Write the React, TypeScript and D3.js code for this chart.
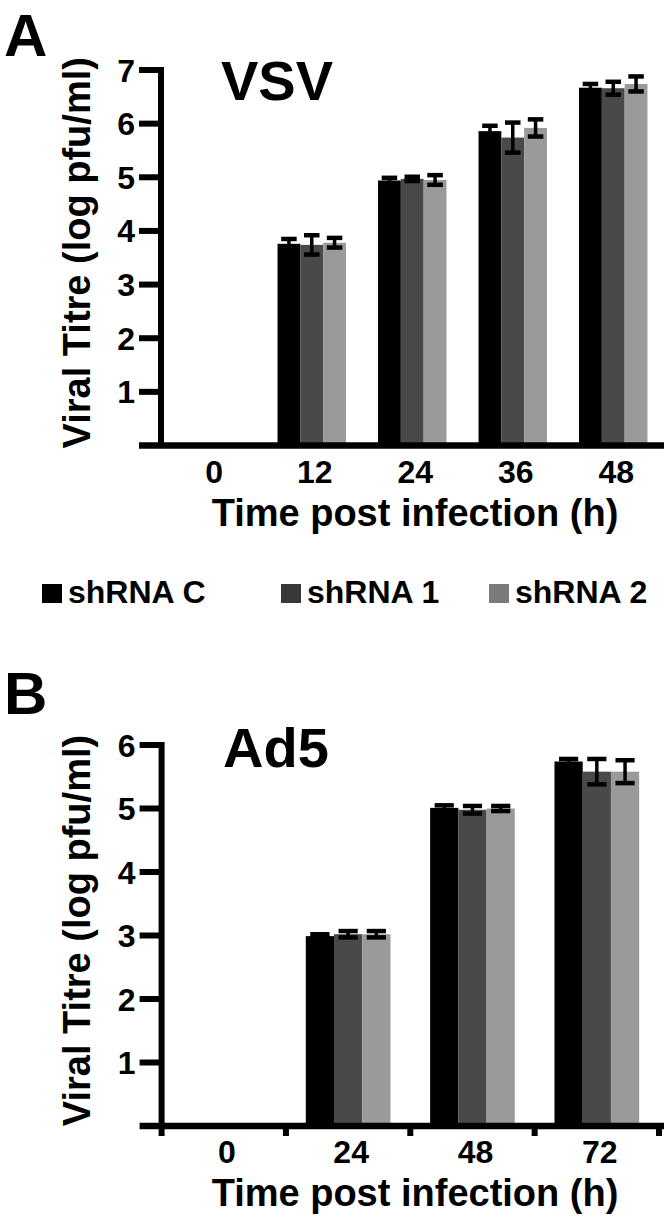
import React from 'react';
import * as d3 from 'd3';

// ---------- data ----------
const seriesNames = ['shRNA C', 'shRNA 1', 'shRNA 2'];

const vsvTimes = ['0', '12', '24', '36', '48'];
const vsvShC = [0, 3.76, 4.94, 5.86, 6.67];
const vsvShCErr = [0, 0.09, 0.05, 0.1, 0.07];
const vsvSh1 = [0, 3.74, 4.97, 5.74, 6.66];
const vsvSh1Err = [0, 0.18, 0.04, 0.28, 0.12];
const vsvSh2 = [0, 3.78, 4.95, 5.92, 6.74];
const vsvSh2Err = [0, 0.09, 0.09, 0.16, 0.14];
const vsvYTicks = [1, 2, 3, 4, 5, 6, 7];

const ad5Times = ['0', '24', '48', '72'];
const ad5ShC = [0, 2.99, 5.01, 5.74];
const ad5ShCErr = [0, 0.03, 0.04, 0.04];
const ad5Sh1 = [0, 3.02, 4.98, 5.58];
const ad5Sh1Err = [0, 0.05, 0.06, 0.2];
const ad5Sh2 = [0, 3.02, 5.0, 5.58];
const ad5Sh2Err = [0, 0.05, 0.04, 0.18];
const ad5YTicks = [1, 2, 3, 4, 5, 6];

const barColors = ['#000000', '#494949', '#9a9a9a'];
const legendColors = ['#000000', '#383838', '#7a7a7a'];

const FONT = '"Liberation Sans", Arial, Helvetica, sans-serif';

type PanelProps = {
  cats: string[];
  values: number[][];
  errs: number[][];
  yTicks: number[];
  yMax: number;
  top: number;
  bottom: number;
  left: number;
  right: number;
  xTicks: boolean;
  letter: string;
  letterX: number;
  letterY: number;
  virus: string;
  virusX: number;
  virusY: number;
};

function Panel(p: PanelProps) {
  const y = d3.scaleLinear().domain([0, p.yMax]).range([p.bottom, p.top]);
  const x0 = d3.scaleBand<string>().domain(p.cats).range([p.left, p.right]).padding(0);
  const bw = x0.bandwidth() * 0.227;
  const x1 = d3
    .scaleBand<string>()
    .domain(seriesNames)
    .range([0, bw * 3])
    .padding(0);
  const gOff = (x0.bandwidth() - bw * 3) / 2;
  const capW = bw * 0.68;
  const axisW = 6;
  const tickLen = 22;
  const y0 = y(0);
  const lineEnd = 664;
  const midY = (p.top + p.bottom) / 2 - 5;
  const boundaries = [...p.cats.map((c) => x0(c) as number), p.right];

  return (
    <g>
      <text x={p.letterX} y={p.letterY} fontFamily={FONT} fontWeight="bold" fontSize={60}>
        {p.letter}
      </text>
      <text x={p.virusX} y={p.virusY} fontFamily={FONT} fontWeight="bold" fontSize={56}>
        {p.virus}
      </text>

      {/* bars */}
      {p.cats.map((c, ci) =>
        seriesNames.map((s, si) => {
          const v = p.values[si][ci];
          if (v <= 0) return null;
          const bx = (x0(c) as number) + gOff + (x1(s) as number);
          return (
            <rect
              key={c + s}
              x={bx}
              y={y(v)}
              width={x1.bandwidth()}
              height={y0 - y(v)}
              fill={barColors[si]}
            />
          );
        })
      )}

      {/* error bars */}
      {p.cats.map((c, ci) =>
        seriesNames.map((s, si) => {
          const v = p.values[si][ci];
          const e = p.errs[si][ci];
          if (v <= 0) return null;
          const cx = (x0(c) as number) + gOff + (x1(s) as number) + x1.bandwidth() / 2;
          return (
            <g key={'e' + c + s} stroke="#000">
              <line x1={cx} x2={cx} y1={y(v - e)} y2={y(v + e)} strokeWidth={3.5} />
              <line x1={cx - capW / 2} x2={cx + capW / 2} y1={y(v + e)} y2={y(v + e)} strokeWidth={4.5} />
              <line x1={cx - capW / 2} x2={cx + capW / 2} y1={y(v - e)} y2={y(v - e)} strokeWidth={4.5} />
            </g>
          );
        })
      )}

      {/* y axis */}
      <line x1={p.left} x2={p.left} y1={y(p.yMax) - axisW / 2} y2={y0} stroke="#000" strokeWidth={axisW} />
      {p.yTicks.map((t) => (
        <g key={'yt' + t}>
          <line x1={p.left - tickLen} x2={p.left} y1={y(t)} y2={y(t)} stroke="#000" strokeWidth={axisW} />
          <text
            x={p.left - 26}
            y={y(t) + 11.5}
            textAnchor="end"
            fontFamily={FONT}
            fontWeight="bold"
            fontSize={32}
          >
            {t}
          </text>
        </g>
      ))}
      {/* x axis */}
      <line x1={p.left - tickLen} x2={lineEnd} y1={y0} y2={y0} stroke="#000" strokeWidth={6.5} />
      {p.xTicks &&
        boundaries.map((b, i) => (
          <line key={'xt' + i} x1={b} x2={b} y1={y0} y2={y0 + 10} stroke="#000" strokeWidth={axisW} />
        ))}
      {p.cats.map((c) => (
        <text
          key={'xl' + c}
          x={(x0(c) as number) + x0.bandwidth() / 2 + 3}
          y={y0 + 37}
          textAnchor="middle"
          fontFamily={FONT}
          fontWeight="bold"
          fontSize={32}
        >
          {c}
        </text>
      ))}
      <text
        x={415}
        y={y0 + 80}
        textAnchor="middle"
        fontFamily={FONT}
        fontWeight="bold"
        fontSize={38}
      >
        Time post infection (h)
      </text>
      <text
        transform={`translate(90,${midY}) rotate(-90)`}
        textAnchor="middle"
        fontFamily={FONT}
        fontWeight="bold"
        fontSize={38}
      >
        Viral Titre (log pfu/ml)
      </text>
    </g>
  );
}

const legendX = [42, 281, 489];

export default function App() {
  return (
    <svg
      width={666}
      height={1226}
      viewBox="0 0 666 1226"
      style={{ position: 'absolute', left: 0, top: 0, background: '#fff' }}
    >
      <rect x={0} y={0} width={666} height={1226} fill="#fff" />
      <Panel
        cats={vsvTimes}
        values={[vsvShC, vsvSh1, vsvSh2]}
        errs={[vsvShCErr, vsvSh1Err, vsvSh2Err]}
        yTicks={vsvYTicks}
        yMax={7}
        top={70}
        bottom={445.5}
        left={161}
        right={663.5}
        xTicks={false}
        letter="A"
        letterX={4}
        letterY={56}
        virus="VSV"
        virusX={221}
        virusY={100}
      />
      {seriesNames.map((s, i) => (
        <g key={s}>
          <rect x={legendX[i]} y={584} width={20} height={19} fill={legendColors[i]} />
          <text
            x={legendX[i] + 26}
            y={603}
            fontFamily={FONT}
            fontWeight="bold"
            fontSize={32}
          >
            {s}
          </text>
        </g>
      ))}
      <Panel
        cats={ad5Times}
        values={[ad5ShC, ad5Sh1, ad5Sh2]}
        errs={[ad5ShCErr, ad5Sh1Err, ad5Sh2Err]}
        yTicks={ad5YTicks}
        yMax={6}
        top={745}
        bottom={1126}
        left={161.6}
        right={659}
        xTicks={true}
        letter="B"
        letterX={4}
        letterY={714}
        virus="Ad5"
        virusX={223}
        virusY={767}
      />
    </svg>
  );
}
